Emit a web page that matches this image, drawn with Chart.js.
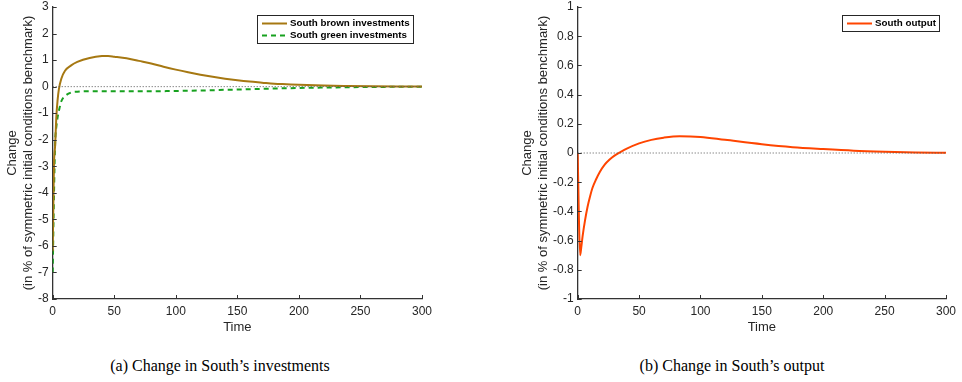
<!DOCTYPE html>
<html>
<head>
<meta charset="utf-8">
<script src="https://cdn.jsdelivr.net/npm/chart.js@4.4.1/dist/chart.umd.min.js"></script>
<style>
  body { margin: 0; background: #fff; width: 962px; height: 382px; position: relative; overflow: hidden; }
  .panel { position: absolute; top: 0; width: 481px; height: 340px; }
  .caption {
    position: absolute; top: 357px; white-space: nowrap; transform: translateX(-50%);
    font-family: "Liberation Serif", "Times New Roman", serif; font-size: 16px; color: #000;
  }
</style>
</head>
<body>
<div class="panel" style="left:0"><canvas id="invest" width="481" height="340"></canvas></div>
<div class="panel" style="left:481px"><canvas id="output" width="481" height="340"></canvas></div>
<div class="caption" style="left:220px">(a) Change in South’s investments</div>
<div class="caption" style="left:732px">(b) Change in South’s output</div>
<script>
// time grid for the investment panel
const investTime = [0, 1, 2, 3, 4, 5, 7, 10, 15, 20, 30, 40, 45, 50, 60, 70, 80, 90, 100, 110, 120,
  130, 140, 150, 160, 170, 180, 190, 200, 220, 240, 260, 280, 300];
const brownInvest = [-6.2, -3.0, -2.2, -1.1, -0.5, -0.1, 0.3, 0.6, 0.8, 0.93, 1.08, 1.15, 1.155, 1.13, 1.07,
  0.97, 0.87, 0.75, 0.64, 0.54, 0.45, 0.37, 0.30, 0.24, 0.19, 0.15, 0.11, 0.09, 0.07, 0.04, 0.025, 0.015, 0.008, 0.004];
const greenInvest = [-7.0, -4.2, -2.1, -1.5, -1.15, -0.92, -0.55, -0.36, -0.22, -0.19, -0.17, -0.17, -0.17, -0.17,
  -0.175, -0.175, -0.175, -0.17, -0.165, -0.155, -0.145, -0.135, -0.12, -0.11, -0.095, -0.085, -0.07, -0.06,
  -0.05, -0.035, -0.022, -0.013, -0.007, -0.003];

// output panel
const outputTime = [0, 1, 2, 3, 4, 6, 8, 10, 12, 15, 18, 22, 26, 30, 34, 40, 50, 60, 70, 83, 100, 120,
  150, 175, 200, 225, 250, 275, 300];
const southOutput = [0, -0.45, -0.70, -0.64, -0.57, -0.46, -0.37, -0.30, -0.24, -0.18, -0.13, -0.08, -0.045,
  -0.018, 0.002, 0.03, 0.066, 0.09, 0.105, 0.115, 0.11, 0.09, 0.06, 0.04, 0.027, 0.016, 0.009, 0.004, 0.002];

const zeroTime = [0, 300];
const zeroLine = [0, 0];

const xTicks = [0, 50, 100, 150, 200, 250, 300];
const yTitle = ['Change', '(in % of symmetric initial conditions benchmark)'];

const AXIS = '#333333';
const TXT = '#262626';
const SANS = '"Liberation Sans", Arial, Helvetica, sans-serif';

const pts = (xs, ys) => xs.map((x, i) => ({ x: x, y: ys[i] }));

// matlab style: ticks point inwards, legend box in the top right corner
const matlabLook = {
  id: 'matlabLook',
  afterDraw(chart, args, opts) {
    const ctx = chart.ctx;
    const { left, right, top, bottom } = chart.chartArea;
    const xs = chart.scales.x, ys = chart.scales.y;
    ctx.save();
    ctx.strokeStyle = AXIS;
    ctx.lineWidth = 1;
    ctx.beginPath();
    xs.ticks.forEach(t => {
      const px = Math.round(xs.getPixelForValue(t.value)) + 0.5;
      ctx.moveTo(px, bottom); ctx.lineTo(px, bottom - 4);
    });
    ys.ticks.forEach(t => {
      const py = Math.round(ys.getPixelForValue(t.value)) + 0.5;
      ctx.moveTo(left, py); ctx.lineTo(left + 4, py);
    });
    ctx.stroke();

    // legend
    const lg = opts.box;
    const items = chart.data.datasets.filter(d => !d.hideLegend);
    ctx.fillStyle = '#fff';
    ctx.fillRect(lg.x, lg.y, lg.w, lg.h);
    ctx.strokeStyle = '#262626';
    ctx.lineWidth = 1;
    ctx.strokeRect(lg.x + 0.5, lg.y + 0.5, lg.w, lg.h);
    ctx.font = 'bold 9.8px ' + SANS;
    ctx.textBaseline = 'middle';
    items.forEach((d, i) => {
      const ry = lg.y + 8.5 + i * 12;
      ctx.strokeStyle = d.borderColor;
      ctx.lineWidth = d.borderWidth;
      ctx.setLineDash(d.borderDash || []);
      ctx.beginPath();
      ctx.moveTo(lg.x + 5, ry); ctx.lineTo(lg.x + 30, ry);
      ctx.stroke();
      ctx.setLineDash([]);
      ctx.fillStyle = '#000';
      ctx.fillText(d.label, lg.x + 33, ry);
    });
    ctx.restore();
  }
};

function makeChart(id, datasets, yMin, yMax, yStep, yFmt, pad, yWidth, legendBox) {
  return new Chart(document.getElementById(id), {
    type: 'line',
    data: { datasets: datasets },
    plugins: [matlabLook],
    options: {
      responsive: false,
      animation: false,
      layout: { padding: pad },
      elements: { point: { radius: 0 }, line: { cubicInterpolationMode: 'monotone' } },
      plugins: {
        legend: { display: false },
        tooltip: { enabled: false },
        matlabLook: { box: legendBox }
      },
      scales: {
        x: {
          type: 'linear', min: 0, max: 300,
          afterBuildTicks: s => { s.ticks = xTicks.map(v => ({ value: v })); },
          afterFit: s => { s.height = 41; s.paddingLeft = 0; s.paddingRight = 0; },
          grid: { display: false, drawTicks: false },
          border: { display: true, color: AXIS, width: 1.3 },
          ticks: { color: TXT, font: { family: SANS, size: 12 }, padding: 5, maxRotation: 0 },
          title: { display: true, text: 'Time', color: TXT, font: { family: SANS, size: 13 }, padding: { top: 0, bottom: 5 } }
        },
        y: {
          min: yMin, max: yMax,
          afterFit: s => { s.width = yWidth; s.paddingTop = 0; s.paddingBottom = 0; },
          grid: { display: false, drawTicks: false },
          border: { display: true, color: AXIS, width: 1.3 },
          ticks: { stepSize: yStep, color: TXT, font: { family: SANS, size: 12 }, padding: 4, callback: yFmt },
          title: {
            display: true, text: yTitle, color: TXT,
            font: { family: SANS, size: 13, lineHeight: 1.25 }, padding: { top: 4, bottom: 0 }
          }
        }
      }
    }
  });
}

makeChart('invest', [
  { label: 'zero', data: pts(zeroTime, zeroLine), borderColor: '#555', borderWidth: 1, borderDash: [1, 2], hideLegend: true },
  { label: 'South brown investments', data: pts(investTime, brownInvest), borderColor: '#A67812', borderWidth: 2 },
  { label: 'South green investments', data: pts(investTime, greenInvest), borderColor: '#17A11F', borderWidth: 2, borderDash: [5, 4] }
], -8, 3, 1, v => String(v), { left: 0, right: 59, top: 7, bottom: 0 }, 52.7,
  { x: 257, y: 15, w: 156, h: 28 });

makeChart('output', [
  { label: 'zero', data: pts(zeroTime, zeroLine), borderColor: '#555', borderWidth: 1, borderDash: [1, 2], hideLegend: true },
  { label: 'South output', data: pts(outputTime, southOutput), borderColor: '#FF4500', borderWidth: 2 }
], -1, 1, 0.2, v => String(Math.round(v * 10) / 10), { left: 34, right: 16, top: 7, bottom: 0 }, 62.7,
  { x: 361, y: 15, w: 97, h: 16 });
</script>
</body>
</html>
